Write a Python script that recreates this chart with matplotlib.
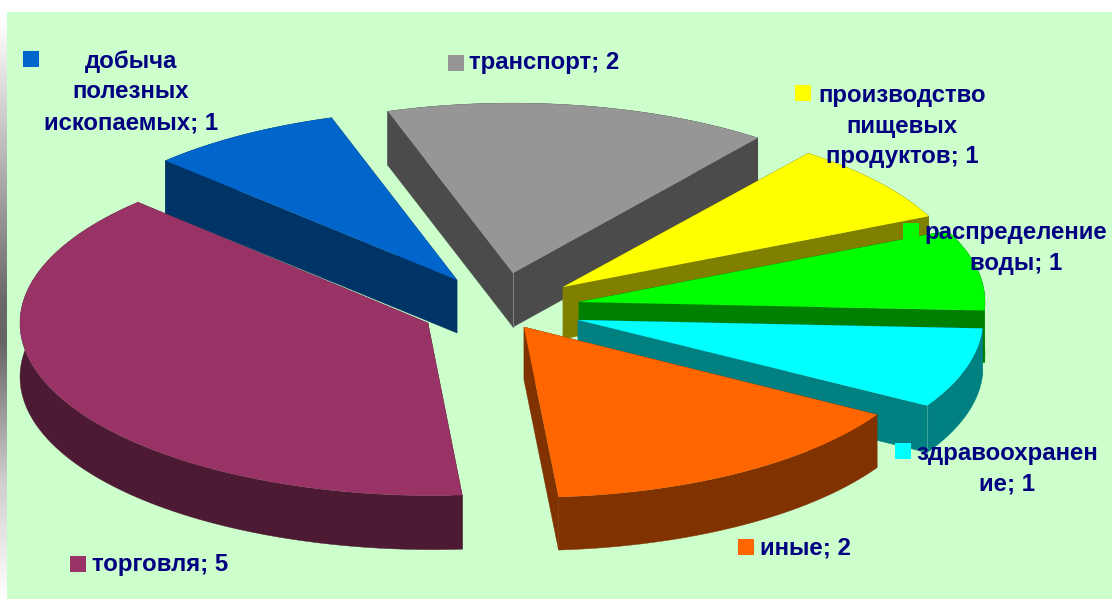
import numpy as np
import matplotlib
matplotlib.use("Agg")
import matplotlib.pyplot as plt
from matplotlib.patches import Polygon, Rectangle

# --- data ---
categories = ["добыча полезных ископаемых", "транспорт", "производство пищевых продуктов",
              "распределение воды", "здравоохранение", "иные", "торговля"]
values = [1, 2, 1, 1, 1, 2, 5]

# --- styles ---
top_colors = ["#0066CC", "#969696", "#FFFF00", "#00FF00", "#00FFFF", "#FF6600", "#993366"]
side_colors = ["#003366", "#4B4B4B", "#808000", "#008000", "#008080", "#803300", "#4D1A33"]
apexes = [(457, 280), (513, 273), (563, 287), (579, 302), (578, 320), (524, 327), (428, 323)]
arc_shift = [(0, 0), (-1, -1), (0, 0), (0, 0), (2, 0), (6, 2), (5, 0)]
radii = [408, 404, 403, 406, 403, 403, 413]
depths = [53, 54, 52, 52, 47, 53, 54]
seams = [None, "apex", None, None, "end", None, None]
START = 135.6
TILT = 0.418
TEXT = "#000080"

label_texts = ["добыча\nполезных\nископаемых; 1", "транспорт; 2", "производство\nпищевых\nпродуктов; 1",
               "распределение\nводы; 1", "здравоохранен\nие; 1", "иные; 2", "торговля; 5"]
label_pos = [(131, 92), (544, 63), (902, 126), (1016, 248), (1007, 469), (805, 548), (160, 565)]
key_pos = [(23, 51), (448, 55), (795, 85), (903, 223), (895, 443), (738, 539), (70, 556)]

W, H = 1112, 599
fig = plt.figure(figsize=(W / 100, H / 100), dpi=100, facecolor="white")
ax = fig.add_axes([0, 0, 1, 1])
ax.set_xlim(0, W)
ax.set_ylim(H, 0)
ax.axis("off")

# background panel and left gradient strip
ax.add_patch(Rectangle((7, 12), W - 7, H - 12, fc="#CCFFCC", ec="none", zorder=0))
ys = np.arange(H)
grad = np.interp(ys, [0, 20, 300, 340, 480, 599], [255, 255, 105, 100, 205, 255]) / 255
ax.imshow(grad[:, None], cmap="gray", vmin=0, vmax=1, extent=(0, 7, H, 0), aspect="auto", zorder=0)
ax.set_xlim(0, W)
ax.set_ylim(H, 0)

# 3-D pie slices, painted from back to front
total = sum(values)
a0 = START
for i, v in enumerate(values):
    a1 = a0 - 360 * v / total
    th = np.radians(np.linspace(a0, a1, 120))
    ax_, ay_ = apexes[i]
    sx, sy = arc_shift[i]
    R = radii[i]
    px = ax_ + sx + R * np.cos(th)
    py = ay_ + sy - R * TILT * np.sin(th)
    arc = np.column_stack([px, py])
    apex = np.array([ax_, ay_], dtype=float)
    d = depths[i]
    z = 2 + i
    down = np.array([0, d])
    walls = [np.vstack([arc, (arc + down)[::-1]]),
             np.array([apex, arc[0], arc[0] + down, apex + down]),
             np.array([apex, arc[-1], arc[-1] + down, apex + down])]
    for wall in walls:
        ax.add_patch(Polygon(wall, closed=True, fc=side_colors[i], ec=side_colors[i], lw=0.3, zorder=z))
    ax.add_patch(Polygon(np.vstack([apex, arc]), closed=True, fc=top_colors[i], ec="none", zorder=z + 0.5))
    if seams[i] == "apex":
        ax.plot([ax_, ax_], [ay_, ay_ + d], color="#7F7F7F", lw=0.8, zorder=z + 0.4)
    elif seams[i] == "end":
        ax.plot([px[-1]] * 2, [py[-1], py[-1] + d], color="#3F9F9F", lw=0.8, zorder=z + 0.4)
    a0 = a1

# data labels
for txt, (x, y), (kx, ky), c in zip(label_texts, label_pos, key_pos, top_colors):
    ax.text(x, y, txt, ha="center", va="center", color=TEXT, fontsize=17.25, fontweight="bold",
            family="Liberation Sans", linespacing=1.43, zorder=20)
    ax.add_patch(Rectangle((kx, ky), 16, 16, fc=c, ec="none", zorder=19))

fig.savefig("out.png", dpi=100, facecolor="white")
